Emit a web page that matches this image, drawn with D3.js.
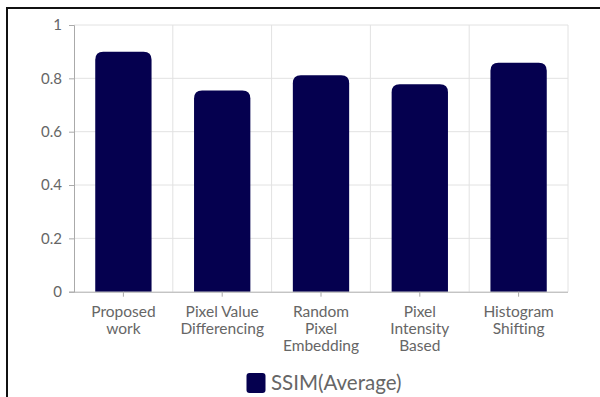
<!DOCTYPE html>
<html><head><meta charset="utf-8">
<script src="https://cdn.jsdelivr.net/npm/d3@7"></script>
<style>
html,body{margin:0;padding:0;background:#fff;}
svg{display:block;}
</style></head>
<body><svg id="c" width="600" height="397"></svg>
<script>
const categories = [["Proposed","work"],["Pixel Value","Differencing"],["Random","Pixel","Embedding"],["Pixel","Intensity","Based"],["Histogram","Shifting"]];
const ssimValues = [0.9, 0.754, 0.812, 0.778, 0.858];
const yTicks = [0, 0.2, 0.4, 0.6, 0.8, 1];
const yTickLabels = ["0","0.2","0.4","0.6","0.8","1"];
const seriesName = "SSIM(Average)";

const svg = d3.select("#c");
const font = "Lato, 'Open Sans', sans-serif";
const textColor = "#666";
const barColor = "#05004f";

// frame border
svg.append("line").attr("x1",7).attr("x2",600).attr("y1",8).attr("y2",8).attr("stroke","#111").attr("stroke-width",2);
svg.append("line").attr("x1",7).attr("x2",7).attr("y1",7).attr("y2",397).attr("stroke","#111").attr("stroke-width",2);

const pLeft = 74, pRight = 568, pTop = 25, pBottom = 291.7;
const x = d3.scaleBand().domain(d3.range(categories.length)).range([pLeft,pRight]).paddingInner(0).paddingOuter(0);
const y = d3.scaleLinear().domain([0,1]).range([pBottom,pTop]);

// horizontal grid
svg.append("g").selectAll("line").data(yTicks.filter(t=>t>0)).join("line")
  .attr("x1",pLeft).attr("x2",pRight).attr("y1",d=>y(d)).attr("y2",d=>y(d))
  .attr("stroke","#e2e2e2").attr("stroke-width",1);
// vertical grid at band boundaries
svg.append("g").selectAll("line").data(d3.range(1,categories.length+1)).join("line")
  .attr("x1",d=>x.step()*d+pLeft).attr("x2",d=>x.step()*d+pLeft).attr("y1",pTop).attr("y2",pBottom)
  .attr("stroke","#e2e2e2").attr("stroke-width",1);

// bars with rounded tops
const bw = x.bandwidth()*0.57, r = 8;
svg.append("g").selectAll("path").data(ssimValues).join("path")
  .attr("fill",barColor)
  .attr("d",(d,i)=>{
    const cx = x(i)+x.bandwidth()/2, x0 = cx-bw/2, x1 = cx+bw/2, yt = y(d), yb = y(0);
    return `M${x0},${yb}V${yt+r}Q${x0},${yt} ${x0+r},${yt}H${x1-r}Q${x1},${yt} ${x1},${yt+r}V${yb}Z`;
  });

// y axis
const yAxis = d3.axisLeft(y).tickValues(yTicks).tickFormat((d,i)=>yTickLabels[i]).tickSize(5).tickPadding(7);
const gy = svg.append("g").attr("transform",`translate(${pLeft},0)`).call(yAxis);
gy.select(".domain").attr("stroke","#aaa");
gy.selectAll(".tick line").attr("stroke","#aaa");
gy.selectAll("text").attr("fill",textColor).attr("font-family",font).attr("font-size",15);

// x axis
const xAxis = d3.axisBottom(x).tickSize(5).tickFormat("");
const gx = svg.append("g").attr("transform",`translate(0,${pBottom})`).call(xAxis);
gx.select(".domain").attr("stroke","#aaa").attr("d",`M${pLeft},0.5H${pRight}`);
gx.selectAll(".tick line").attr("stroke","#aaa");
gx.selectAll(".tick").each(function(d){
  const t = d3.select(this).append("text").attr("fill",textColor).attr("font-family",font)
    .attr("font-size",15.5).attr("text-anchor","middle");
  categories[d].forEach((s,k)=>{
    t.append("tspan").attr("x",0).attr("y",25.5+k*16.7).text(s);
  });
});

// legend
const lg = svg.append("g");
lg.append("rect").attr("x",246.5).attr("y",373).attr("width",19).attr("height",20).attr("rx",3).attr("fill",barColor);
lg.append("text").attr("x",271).attr("y",390).attr("font-family",font).attr("font-size",20.5).attr("fill",textColor).text(seriesName);
</script></body></html>
